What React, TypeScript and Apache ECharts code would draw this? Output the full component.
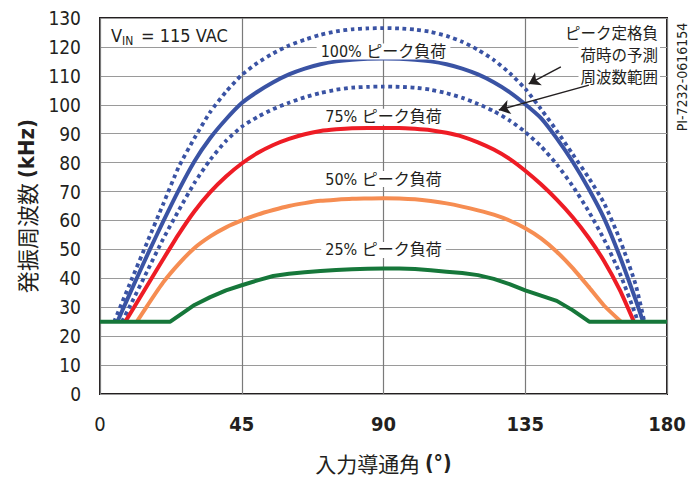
import React, { useEffect, useRef } from 'react';
import * as echarts from 'echarts';

const FONT = '"DejaVu Sans Condensed", "DejaVu Sans", "Noto Sans CJK JP", sans-serif';
const CJK = '"Noto Sans CJK JP", sans-serif';
const INK = '#231f20';

// x-axis / y-axis ticks
const xTicks = [0, 45, 90, 135, 180];
const yMin = 0;
const yMax = 130;
const yStep = 10;

// 100% load, upper predicted bound (dotted)
const upperX = [4.5, 10, 15, 20, 25, 30, 35, 40, 45, 50, 55, 60, 65, 70, 75, 80, 85, 90, 95, 100, 105, 110, 115, 120, 125, 130, 135, 140, 145, 150, 155, 160, 165, 170, 172.8];
const upperY = [25, 39.5, 52.5, 65.5, 78.5, 88.5, 97.5, 104.5, 110.3, 114.5, 117.8, 120.5, 122.5, 124.2, 125.4, 126.1, 126.4, 126.5, 126.4, 126, 125.2, 123.8, 121.8, 119, 115.5, 111, 105.5, 98.5, 91, 83, 75, 66, 53.5, 38, 25];

// 100% load (solid)
const fullX = [5.5, 10, 15, 20, 25, 30, 35, 40, 45, 50, 55, 60, 65, 70, 75, 80, 85, 90, 95, 100, 105, 110, 115, 120, 125, 130, 135, 140, 145, 150, 155, 160, 165, 170, 172.4];
const fullY = [25, 36, 48, 59.5, 70.5, 80.5, 88.5, 95, 100.6, 104.5, 107.8, 110.5, 112.5, 114, 115, 115.6, 115.9, 116, 115.9, 115.6, 115, 114, 112.5, 110.5, 107.8, 104.4, 100.2, 95.4, 88.4, 80.4, 71.2, 60.8, 47.6, 32.7, 25];

// 100% load, lower predicted bound (dotted)
const lowerX = [7, 10, 15, 20, 25, 30, 35, 40, 45, 50, 55, 60, 65, 70, 75, 80, 85, 90, 95, 100, 105, 110, 115, 120, 125, 130, 135, 140, 145, 150, 155, 160, 165, 170, 170.7];
const lowerY = [25, 31.5, 42.5, 53.5, 63.5, 73, 81, 87.5, 92.4, 95.8, 98.5, 100.7, 102.6, 104.1, 105.2, 105.9, 106.2, 106.3, 106.2, 105.9, 105.2, 104, 102.4, 100.3, 97.8, 94.6, 90.6, 85.6, 79.4, 72, 63.4, 53.5, 41.8, 27.5, 25];

// 75% load
const p75X = [8, 10, 15, 20, 25, 30, 35, 40, 45, 50, 55, 60, 65, 70, 75, 80, 85, 90, 95, 100, 105, 110, 115, 120, 125, 130, 135, 140, 145, 150, 155, 160, 165, 169.5];
const p75Y = [25, 28.5, 37.5, 46.5, 55.3, 63.2, 69.8, 75.2, 79.7, 83.3, 86.1, 88.2, 89.8, 90.9, 91.5, 91.9, 92, 92, 92, 91.7, 91.2, 90.3, 89, 87, 84.5, 81.3, 77.2, 72.5, 67.2, 61.2, 54.2, 46, 36, 25];

// 50% load
const p50X = [11.7, 15, 20, 25, 30, 35, 40, 45, 50, 55, 60, 65, 70, 75, 80, 85, 90, 95, 100, 105, 110, 115, 120, 125, 130, 135, 140, 145, 150, 155, 160, 165.4];
const p50Y = [25, 30.5, 38.5, 45, 50.5, 54.5, 57.6, 60, 62, 63.6, 65, 66, 66.8, 67.2, 67.5, 67.6, 67.7, 67.6, 67.3, 66.7, 65.9, 64.8, 63.5, 62, 60, 57.3, 53.8, 49.2, 43.6, 37.2, 30.6, 25];

// 25% load
const p25X = [0, 22.3, 26, 30, 35, 40, 45, 50, 55, 60, 65, 70, 75, 80, 85, 90, 95, 100, 105, 110, 115, 120, 125, 130, 135, 140, 145, 150, 155.3, 180];
const p25Y = [25, 25, 27.8, 30.8, 33.5, 35.8, 37.6, 39.3, 40.8, 41.6, 42.1, 42.5, 42.9, 43.1, 43.3, 43.4, 43.4, 43.2, 42.8, 42.3, 41.8, 41.1, 39.8, 38, 35.8, 34, 32.2, 29, 25, 25];

// curve labels (centered at 90°)
const labelTexts = ['100% ピーク負荷', '75% ピーク負荷', '50% ピーク負荷', '25% ピーク負荷'];
const labelValues = [118.4, 95.9, 74.3, 49.8];
const labelAngle = 90;

// note text lines
const noteLines = ['ピーク定格負', '荷時の予測', '周波数範囲'];

// arrows of the prediction-range note: [fromAngle, fromValue, toAngle, toValue]
const arrowUpper = [146.3, 113.1, 136.1, 107.2];
const arrowLower = [155.2, 106.8, 126.6, 98.2];

const BLUE = '#3a53a4';
const RED = '#ee1c25';
const ORANGE = '#f68d52';
const GREEN = '#16773a';

function pairs(xs: number[], ys: number[]) {
  return xs.map((x, i) => [x, ys[i]]);
}

function labelPoint(i: number) {
  return {
    symbol: 'rect',
    symbolSize: 1,
    itemStyle: { color: 'rgba(0,0,0,0)' },
    silent: true,
    label: {
      show: true,
      position: 'inside',
      formatter: labelTexts[i],
      color: INK,
      fontSize: 16,
      fontFamily: FONT,
      backgroundColor: '#fff',
      padding: [0, 4],
    },
    data: [{ coord: [labelAngle, labelValues[i]] }],
  };
}

function line(name: string, xs: number[], ys: number[], color: string, dotted: boolean, extra: any = {}) {
  return {
    name,
    type: 'line',
    data: pairs(xs, ys),
    showSymbol: false,
    symbol: 'none',
    smooth: name === '25%' ? false : 0.2,
    lineStyle: {
      color,
      width: dotted ? 3.8 : 4,
      type: dotted ? [3.8, 3.6] : 'solid',
      cap: 'butt',
    },
    silent: true,
    ...extra,
  };
}

export default function App() {
  const ref = useRef<HTMLDivElement>(null);
  useEffect(() => {
    const chart = echarts.init(ref.current!, null, { renderer: 'svg' });
    const noteGraphics = noteLines.map((t, i) => ({
      type: 'text',
      x: 660,
      y: 31.5 + i * 22,
      z: 10,
      style: {
        text: t,
        align: 'right',
        verticalAlign: 'middle',
        fontSize: 15.5,
        fontFamily: CJK,
        fill: INK,
        backgroundColor: '#fff',
        padding: [0, 2],
      },
    }));
    const option: any = {
      animation: false,
      backgroundColor: '#fff',
      grid: {
        left: 100,
        right: 33,
        top: 18,
        bottom: 89,
        show: true,
        borderColor: INK,
        borderWidth: 2,
        backgroundColor: 'transparent',
      },
      xAxis: {
        type: 'value',
        min: xTicks[0],
        max: xTicks[xTicks.length - 1],
        interval: xTicks[1] - xTicks[0],
        axisLine: { show: false },
        axisTick: { show: false },
        splitLine: { show: true, lineStyle: { color: '#7a7a7a', width: 1.2 } },
        axisLabel: {
          margin: 20,
          formatter: (v: number) => (v === 0 ? '{r|' + v + '}' : '{b|' + v + '}'),
          rich: {
            r: { fontFamily: FONT, fontSize: 20, color: INK },
            b: { fontFamily: FONT, fontSize: 20, fontWeight: 'bold', color: INK },
          },
        },
        name: '{a|入力導通角 }{b|(°)}',
        nameLocation: 'middle',
        nameGap: 58,
        nameTextStyle: {
          rich: {
            a: { fontFamily: CJK, fontSize: 21, color: INK },
            b: { fontFamily: FONT, fontSize: 21, fontWeight: 'bold', color: INK },
          },
        },
      },
      yAxis: {
        type: 'value',
        min: yMin,
        max: yMax,
        interval: yStep,
        axisLine: { show: false },
        axisTick: { show: false },
        splitLine: { show: true, lineStyle: { color: '#9a9a9a', width: 1.2 } },
        axisLabel: {
          margin: 19,
          fontFamily: FONT,
          fontSize: 19,
          color: INK,
        },
        name: '{a|発振周波数 }{b|(kHz)}',
        nameLocation: 'middle',
        nameGap: 60,
        nameTextStyle: {
          rich: {
            a: { fontFamily: CJK, fontSize: 22, color: INK },
            b: { fontFamily: FONT, fontSize: 22, fontWeight: 'bold', color: INK },
          },
        },
      },
      graphic: [
        { type: 'text', x: 111, y: 35, style: { text: 'V', fontSize: 18, fontFamily: FONT, fill: INK, verticalAlign: 'middle' } },
        { type: 'text', x: 122, y: 41, style: { text: 'IN', fontSize: 12, fontFamily: FONT, fill: INK, verticalAlign: 'middle' } },
        { type: 'text', x: 141, y: 35, style: { text: '= 115 VAC', fontSize: 18, fontFamily: FONT, fill: INK, verticalAlign: 'middle' } },
        ...noteGraphics,
        {
          type: 'text',
          x: 682,
          y: 77,
          rotation: Math.PI / 2,
          style: { text: 'PI-7232-0616154', align: 'center', verticalAlign: 'middle', fontSize: 14, fontFamily: FONT, fill: INK },
        },
      ],
      series: [
        line('upper', upperX, upperY, BLUE, true, {
          markLine: {
            silent: true,
            symbol: ['none', 'arrow'],
            symbolSize: 11,
            lineStyle: { color: INK, width: 1.5, type: 'solid' },
            itemStyle: { color: INK },
            label: { show: false },
            data: [
              [{ coord: [arrowUpper[0], arrowUpper[1]] }, { coord: [arrowUpper[2], arrowUpper[3]] }],
              [{ coord: [arrowLower[0], arrowLower[1]] }, { coord: [arrowLower[2], arrowLower[3]] }],
            ],
          },
        }),
        line('lower', lowerX, lowerY, BLUE, true),
        line('100%', fullX, fullY, BLUE, false, { markPoint: labelPoint(0) }),
        line('75%', p75X, p75Y, RED, false, { markPoint: labelPoint(1) }),
        line('50%', p50X, p50Y, ORANGE, false, { markPoint: labelPoint(2) }),
        line('25%', p25X, p25Y, GREEN, false, { markPoint: labelPoint(3) }),
      ],
    };
    chart.setOption(option);
    return () => chart.dispose();
  }, []);
  return <div ref={ref} style={{ position: 'fixed', left: 0, top: 0, width: 700, height: 483 }} />;
}
